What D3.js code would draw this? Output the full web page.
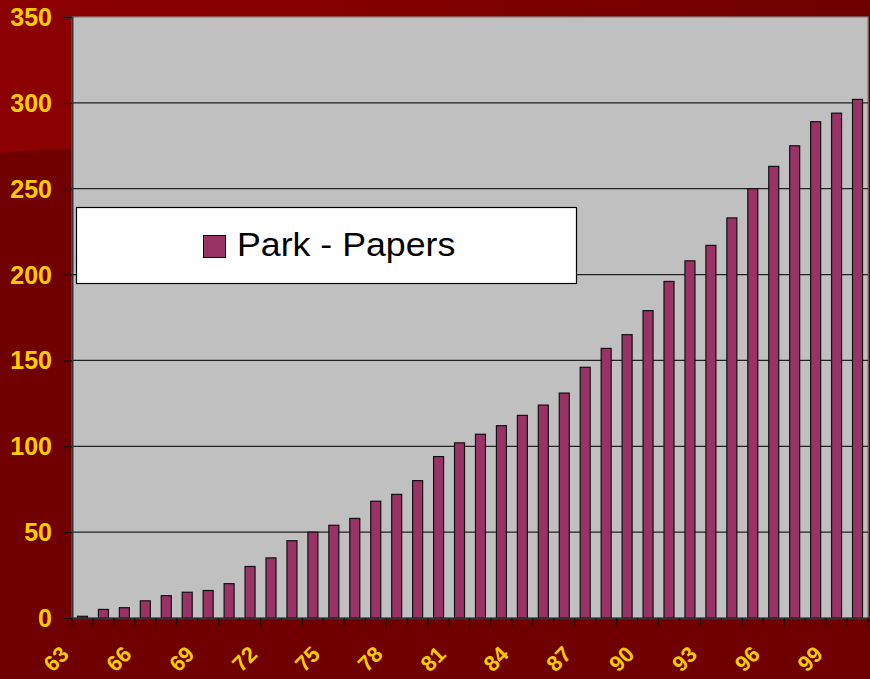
<!DOCTYPE html>
<html><head><meta charset="utf-8">
<script src="https://cdn.jsdelivr.net/npm/d3@7"></script>
<style>html,body{margin:0;padding:0;background:#700000;}svg{display:block;}</style>
</head><body>
<script>
const categories = ["63","64","65","66","67","68","69","70","71","72","73","74","75","76","77","78","79","80","81","82","83","84","85","86","87","88","89","90","91","92","93","94","95","96","97","98","99","100"];
const papers = [1,5,6,10,13,15,16,20,30,35,45,50,54,58,68,72,80,94,102,107,112,118,124,131,146,157,165,179,196,208,217,233,250,263,275,289,294,302];
const yTicks = [0,50,100,150,200,250,300,350];
const xLabels = ["63","66","69","72","75","78","81","84","87","90","93","96","99"];
const seriesName = "Park - Papers";

const W = 870, H = 679;
const m = {left:72, right:2, top:17, bottom:61};
const svg = d3.select("body").append("svg").attr("width",W).attr("height",H);
const FONT = "Liberation Sans, Arial, sans-serif";

// background
const defs = svg.append("defs");
const g1 = defs.append("linearGradient").attr("id","bgTop").attr("x1","0").attr("x2","1").attr("y1","0").attr("y2","0");
g1.append("stop").attr("offset","0").attr("stop-color","#8c0000");
g1.append("stop").attr("offset","0.35").attr("stop-color","#860000");
g1.append("stop").attr("offset","1").attr("stop-color","#6e0000");
svg.append("rect").attr("width",W).attr("height",H).attr("fill","#700000");
svg.append("path").attr("d",`M0,0 H${W} V20 H120 L72,148 L0,153 Z`).attr("fill","url(#bgTop)");

const x = d3.scaleBand().domain(categories).range([m.left, W-m.right]).paddingInner(0).paddingOuter(0);
const y = d3.scaleLinear().domain([0,350]).range([H-m.bottom, m.top]);

// plot area
svg.append("rect").attr("x",m.left).attr("y",m.top).attr("width",W-m.right-m.left).attr("height",H-m.bottom-m.top)
  .attr("fill","#c0c0c0").attr("stroke","#858585").attr("stroke-width",1.2);

// gridlines
svg.append("g").selectAll("line").data(yTicks.filter(d=>d>0 && d<350)).join("line")
  .attr("x1",m.left).attr("x2",W-m.right).attr("y1",d=>y(d)).attr("y2",d=>y(d))
  .attr("stroke","#222").attr("stroke-width",1.2);

// bars
const bw = 10;
svg.append("g").selectAll("rect").data(papers).join("rect")
  .attr("x",(d,i)=>x(categories[i]) + x.bandwidth()/2 - bw/2)
  .attr("y",d=>y(d))
  .attr("width",bw)
  .attr("height",d=>y(0)-y(d))
  .attr("fill","#993366").attr("stroke","#111").attr("stroke-width",1.2);

// y axis
const yAxis = d3.axisLeft(y).tickValues(yTicks).tickSize(8).tickFormat("");
const ya = svg.append("g").attr("transform",`translate(${m.left},0)`).call(yAxis);
ya.select(".domain").attr("stroke","#333").attr("stroke-width",2);
ya.selectAll(".tick line").attr("stroke","#111").attr("stroke-width",1.2);
svg.append("g").selectAll("text").data(yTicks).join("text")
  .attr("x",52).attr("y",d=>y(d))
  .attr("text-anchor","end").attr("dy","0.36em")
  .attr("fill","#ffcc00").attr("font-family",FONT)
  .attr("font-weight","bold").attr("font-size","25px").text(d=>d);

// x axis
const xAxis = d3.axisBottom(x).tickSize(0).tickFormat("");
const xa = svg.append("g").attr("transform",`translate(0,${y(0)})`).call(xAxis);
xa.select(".domain").attr("stroke","#333").attr("stroke-width",2);
const bounds = categories.map(c=>x(c)).concat([W-m.right]);
xa.selectAll(".bt").data(bounds).join("line").attr("class","bt")
  .attr("x1",d=>d).attr("x2",d=>d).attr("y1",0).attr("y2",8).attr("stroke","#111").attr("stroke-width",1.2);
svg.append("g").selectAll("text").data(xLabels).join("text")
  .attr("transform",d=>`translate(${x(d)+x.bandwidth()/2-18},${y(0)+32}) rotate(-45)`)
  .attr("text-anchor","end").attr("dy","0.36em")
  .attr("fill","#ffcc00").attr("font-family",FONT)
  .attr("font-weight","bold").attr("font-size","22px").text(d=>d);

// legend
const lg = svg.append("g");
lg.append("rect").attr("x",76.5).attr("y",207.5).attr("width",500).attr("height",76)
  .attr("fill","#fff").attr("stroke","#000").attr("stroke-width",1.2);
lg.append("rect").attr("x",203.5).attr("y",235.5).attr("width",22).attr("height",22)
  .attr("fill","#993366").attr("stroke","#000").attr("stroke-width",1);
lg.append("text").attr("transform","translate(237,256) scale(1.05,1)").attr("font-family",FONT)
  .attr("font-size","34px").attr("fill","#000").text(seriesName);
</script>
</body></html>
